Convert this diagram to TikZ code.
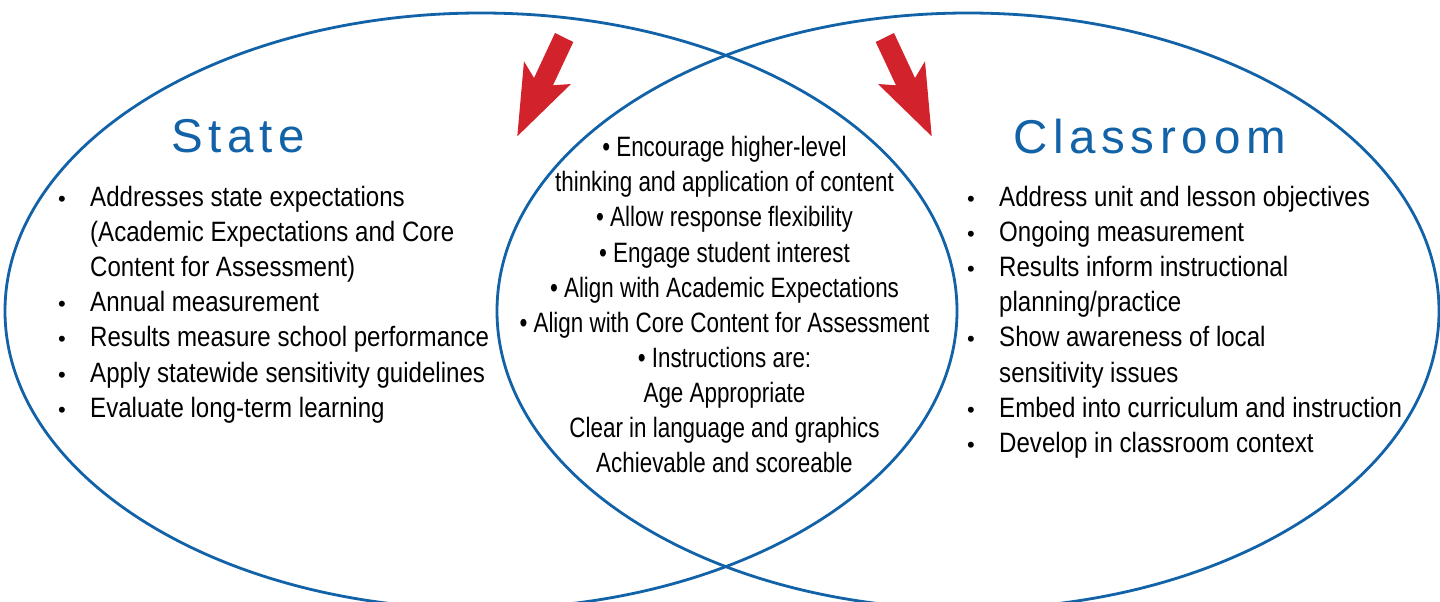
\documentclass[tikz,border=0pt]{standalone}
\usepackage{fontspec}
\setmainfont{Liberation Sans}
\newfontfamily\titlefont[LetterSpace=12]{Liberation Sans}
\newfontfamily\leftfont[FakeStretch=0.86]{Liberation Sans}
\newfontfamily\rightfont[FakeStretch=0.86]{Liberation Sans}
\newfontfamily\midfont[FakeStretch=0.80]{Liberation Sans}
\definecolor{vennblue}{RGB}{18,98,168}
\definecolor{arrowred}{RGB}{210,35,45}
\begin{document}
\begin{tikzpicture}[x=1pt,y=-1pt,
  venn/.style={draw=vennblue,line width=2.8pt},
  bigarrow/.style={fill=arrowred,draw=none},
  titletext/.style={inner sep=0pt,anchor=base west,text=vennblue,font=\titlefont\fontsize{47.5}{50}\selectfont},
  ltxt/.style={inner sep=0pt,anchor=base west,font=\leftfont\fontsize{28}{34}\selectfont},
  rtxt/.style={inner sep=0pt,anchor=base west,font=\rightfont\fontsize{28}{34}\selectfont},
  mtxt/.style={inner sep=0pt,anchor=base,font=\midfont\fontsize{28}{34}\selectfont},
  bul/.style={inner sep=0pt,anchor=base,font=\fontsize{22}{30}\selectfont}
]
\useasboundingbox (0,0) rectangle (1440,602);
\clip (0,0) rectangle (1440,602);
\fill[white] (0,0) rectangle (1440,602);

% circles
\draw[venn] (481,311) ellipse [x radius=476pt, y radius=298pt];
\draw[venn] (968,311) ellipse [x radius=471pt, y radius=298pt];

% arrows
\fill[bigarrow] (555,33) -- (573.3,42) -- (553,85.3) -- (571,84) -- (517.3,136.3) -- (524,61.3) -- (534,78) -- cycle;
\fill[bigarrow] (894,33) -- (875.7,42) -- (896,85.3) -- (878,84) -- (931.7,136.3) -- (925,61.3) -- (915,78) -- cycle;

% titles
\node[titletext] (tstate) at (171,152) {State};
\node[titletext] (tclass) at (1013,153) {Classroom};

% left column
\node[bul] (lb1) at (62,206) {•};
\node[ltxt] (l1) at (90,206) {Addresses state expectations};
\node[ltxt] (l2) at (90,241.2) {(Academic Expectations and Core};
\node[ltxt] (l3) at (90,276.4) {Content for Assessment)};
\node[bul] (lb4) at (62,311.6) {•};
\node[ltxt] (l4) at (90,311.6) {Annual measurement};
\node[bul] (lb5) at (62,346.8) {•};
\node[ltxt] (l5) at (90,346.8) {Results measure school performance};
\node[bul] (lb6) at (62,382) {•};
\node[ltxt] (l6) at (90,382) {Apply statewide sensitivity guidelines};
\node[bul] (lb7) at (62,417.2) {•};
\node[ltxt] (l7) at (90,417.2) {Evaluate long-term learning};

% right column
\node[bul] (rb1) at (971,206) {•};
\node[rtxt] (r1) at (999,206) {Address unit and lesson objectives};
\node[bul] (rb2) at (971,241.2) {•};
\node[rtxt] (r2) at (999,241.2) {Ongoing measurement};
\node[bul] (rb3) at (971,276.4) {•};
\node[rtxt] (r3) at (999,276.4) {Results inform instructional};
\node[rtxt] (r4) at (999,311.6) {planning/practice};
\node[bul] (rb5) at (971,346.8) {•};
\node[rtxt] (r5) at (999,346.8) {Show awareness of local};
\node[rtxt] (r6) at (999,382) {sensitivity issues};
\node[bul] (rb7) at (971,417.2) {•};
\node[rtxt] (r7) at (999,417.2) {Embed into curriculum and instruction};
\node[bul] (rb8) at (971,452.4) {•};
\node[rtxt] (r8) at (999,452.4) {Develop in classroom context};

% middle
\node[mtxt] (m1) at (724.5,156.7) {• Encourage higher-level};
\node[mtxt] (m2) at (724.5,191.8) {thinking and application of content};
\node[mtxt] (m3) at (724.5,226.9) {• Allow response flexibility};
\node[mtxt] (m4) at (724.5,262) {• Engage student interest};
\node[mtxt] (m5) at (724.5,297.1) {• Align with Academic Expectations};
\node[mtxt] (m6) at (724.5,332.2) {• Align with Core Content for Assessment};
\node[mtxt] (m7) at (724.5,367.3) {• Instructions are:};
\node[mtxt] (m8) at (724.5,402.4) {Age Appropriate};
\node[mtxt] (m9) at (724.5,437.5) {Clear in language and graphics};
\node[mtxt] (m10) at (724.5,472.6) {Achievable and scoreable};
\end{tikzpicture}
\end{document}
